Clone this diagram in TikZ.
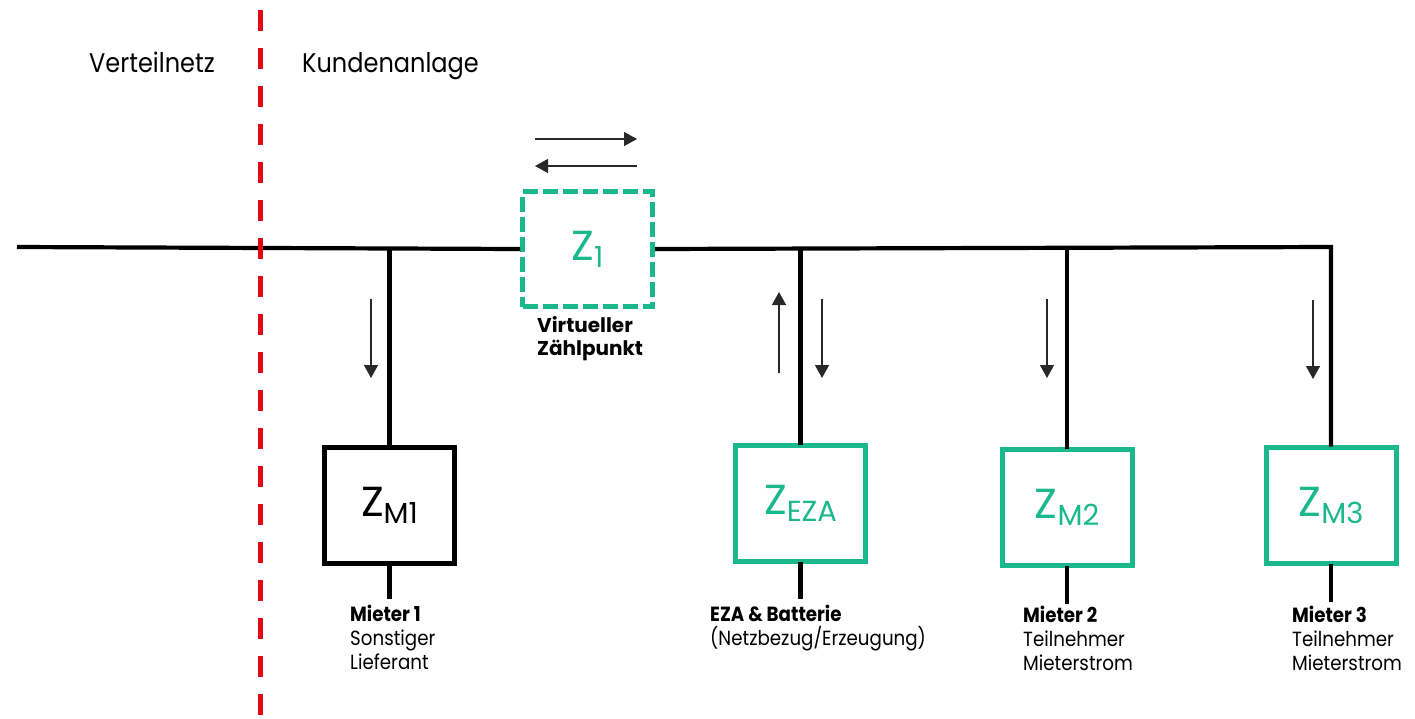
\documentclass[tikz,border=0pt]{standalone}
\usepackage{fontspec}
\setmainfont{Poppins}[FakeStretch=0.89]
\newfontfamily\zfont{Poppins}
\usetikzlibrary{arrows.meta}
\definecolor{zgreen}{RGB}{26,184,140}
\definecolor{netred}{RGB}{227,6,19}
\definecolor{flowgray}{RGB}{40,40,40}
\newcommand{\zlab}[1]{{\zfont\fontsize{42}{42}\selectfont Z}\raisebox{-7pt}{\zfont\fontsize{29}{29}\selectfont #1}}
\begin{document}
\begin{tikzpicture}[x=1pt,y=-1pt,
  bus/.style={line width=4.2pt},
  meter/.style={draw, line width=5pt, minimum width=130pt, minimum height=116pt, inner sep=0pt, fill=white},
  gmeter/.style={meter, draw=zgreen, text=zgreen},
  flow/.style={line width=1.3pt, draw=flowgray, -{Triangle[width=14pt,length=13pt]}},
  lbl/.style={anchor=north west, inner sep=0pt, align=left, font=\fontsize{20.5}{24}\selectfont},
  title/.style={anchor=base west, inner sep=0pt, font=\fontsize{27}{30}\selectfont}
]
\useasboundingbox (0,0) rectangle (1415,718);

% titles
\node[title] (tv) at (89,72) {Verteilnetz};
\node[title] (tk) at (302,72) {Kundenanlage};

% meters
\node[gmeter, dash pattern=on 15pt off 5pt, minimum height=115pt] (Z1) at (587.5,249) {\zlab{1}};
\node[meter] (ZM1) at (389.5,505.5) {\zlab{M1}};
\node[gmeter] (ZEZA) at (800.5,503.5) {\zlab{EZA}};
\node[gmeter] (ZM2) at (1067,507) {\zlab{M2}};
\node[gmeter] (ZM3) at (1331,505) {\zlab{M3}};

% bus
\coordinate (busL) at (17,247);
\coordinate (busR) at (ZM3.north |- busL);
\draw[bus] (busL) -- (Z1.west);
\draw[bus] (Z1.east) -- (busR) -- ([yshift=-2pt]ZM3.north);
\draw[bus] (ZM1.north |- busL) -- ([yshift=-2pt]ZM1.north);
\draw[bus] (ZEZA.north |- busL) -- ([yshift=-2pt]ZEZA.north);
\draw[bus] (ZM2.north |- busL) -- ([yshift=-2pt]ZM2.north);

% stubs
\coordinate (s1) at ([yshift=-33pt]ZM1.south);
\coordinate (s2) at ([yshift=-35pt]ZEZA.south);
\coordinate (s3) at ([yshift=-36pt]ZM2.south);
\coordinate (s4) at ([yshift=-36pt]ZM3.south);
\draw[bus] ([yshift=2pt]ZM1.south) -- (s1);
\draw[bus] ([yshift=2pt]ZEZA.south) -- (s2);
\draw[bus] ([yshift=2pt]ZM2.south) -- (s3);
\draw[bus] ([yshift=2pt]ZM3.south) -- (s4);

% red boundary
\coordinate (rt) at (260,10);
\coordinate (rb) at (260,718);
\draw[netred, line width=5pt, dash pattern=on 21pt off 17pt] (rt) -- (rb);

% flow arrows
\coordinate (fa1) at (535,139); \coordinate (fa2) at (637,139);
\coordinate (fb1) at (637,166); \coordinate (fb2) at (535,166);
\draw[flow] (fa1) -- (fa2);
\draw[flow] (fb1) -- (fb2);
\coordinate (f11) at (371,299); \coordinate (f12) at (371,378);
\draw[flow] (f11) -- (f12);
\coordinate (fe1) at (779,373); \coordinate (fe2) at (779,292);
\draw[flow] (fe1) -- (fe2);
\coordinate (fe3) at (822,299); \coordinate (fe4) at (822,378);
\draw[flow] (fe3) -- (fe4);
\coordinate (f21) at (1047,299); \coordinate (f22) at (1047,378);
\draw[flow] (f21) -- (f22);
\coordinate (f31) at (1313,300); \coordinate (f32) at (1313,379);
\draw[flow] (f31) -- (f32);

% labels
\node[lbl, font=\zfont\fontsize{20}{23}\selectfont\bfseries] (lz1) at (537,316) {Virtueller\\Zählpunkt};
\node[lbl] (l1) at (350,605) {\textbf{Mieter 1}\\Sonstiger\\Lieferant};
\node[lbl] (le) at (710,605) {\textbf{EZA \& Batterie}\\(Netzbezug/Erzeugung)};
\node[lbl] (l2) at (1023,606) {\textbf{Mieter 2}\\Teilnehmer\\Mieterstrom};
\node[lbl] (l3) at (1292,606) {\textbf{Mieter 3}\\Teilnehmer\\Mieterstrom};
\end{tikzpicture}
\end{document}
